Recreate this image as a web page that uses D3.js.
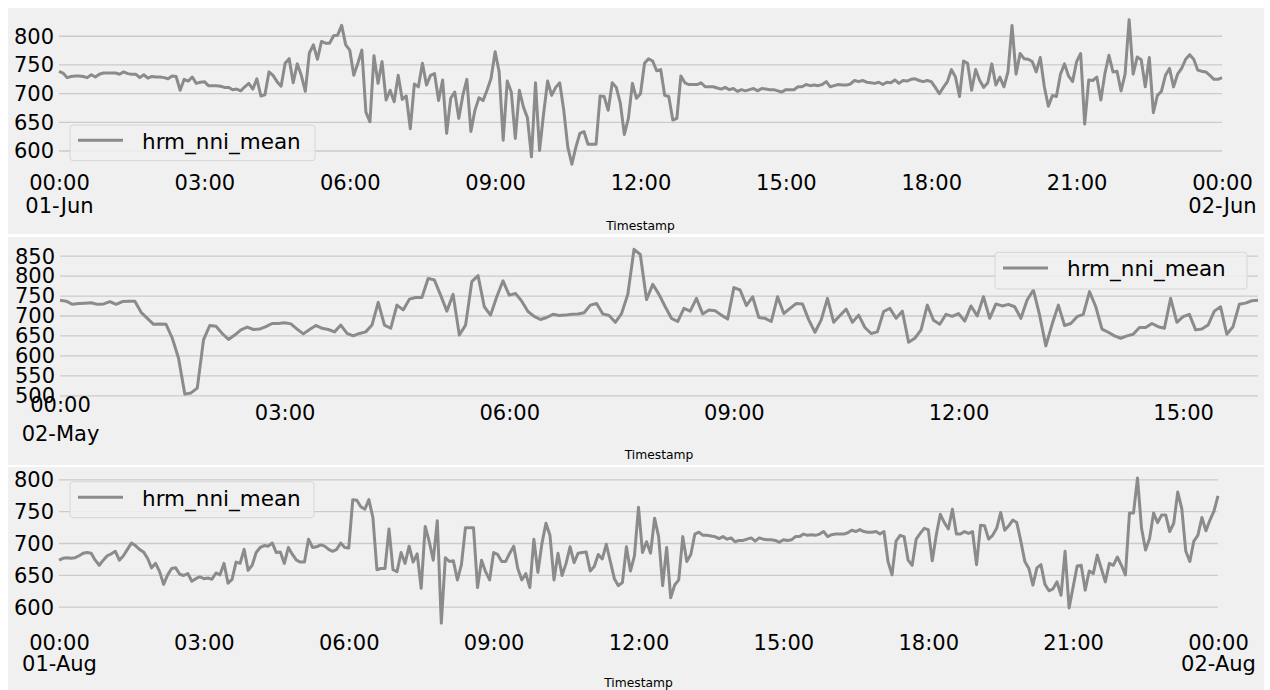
<!DOCTYPE html>
<html>
<head>
<meta charset="utf-8">
<script src="https://cdn.jsdelivr.net/npm/d3@7"></script>
<style>
  body { margin: 0; background: #ffffff; }
  text { font-family: "DejaVu Sans", sans-serif; }
</style>
</head>
<body>
<div id="chart"></div>
<script>
// series settings
const seriesName = "hrm_nni_mean";
const xLabel = "Timestamp";
const stepMinutes = 5;

// 01-Jun, one value every 5 minutes from 00:00 to 00:00 next day
const juneStart = new Date(2021, 5, 1);
const juneValues = [
  738,735,727,729,730,730,729,727,732,728,733,735,
  735,735,735,733,737,734,733,733,727,732,726,729,
  728,728,727,725,730,729,705,724,721,728,717,719,
  720,713,713,713,712,710,710,706,707,704,711,717,
  707,725,695,697,737,731,720,712,752,760,718,751,
  731,703,770,784,759,790,787,787,800,801,818,784,
  775,731,752,775,667,650,765,717,755,688,705,685,
  731,689,695,638,716,711,752,714,731,734,687,723,
  630,691,702,656,696,724,633,670,692,687,705,726,
  772,737,618,721,702,621,705,676,657,589,718,600,
  664,721,696,710,718,670,606,576,606,630,633,611,
  611,611,695,694,670,718,710,683,628,656,717,691,
  699,752,760,756,739,741,696,694,653,656,730,718,
  715,715,715,718,711,711,711,709,707,710,706,708,
  703,706,704,706,708,704,708,707,706,706,704,702,
  706,706,706,711,711,715,713,714,713,715,720,711,
  713,715,714,714,716,722,720,722,719,718,717,719,
  715,719,718,723,717,722,721,724,725,722,720,722,
  720,710,699,710,720,741,728,694,756,752,705,741,
  722,710,718,751,714,728,711,737,818,733,769,760,
  759,755,737,762,711,677,696,694,733,751,730,720,
  755,769,646,723,722,728,688,734,766,737,738,704,
  733,828,733,763,758,711,762,666,696,703,731,743,
  711,733,743,759,767,759,740,738,737,731,724,724,
  727
];
const juneTicks = [600, 650, 700, 750, 800];

// 02-May, 00:00 to 16:00
const mayStart = new Date(2021, 4, 2);
const mayValues = [
  738,736,728,730,731,732,728,729,735,728,735,736,
  736,708,693,678,679,678,643,593,503,506,518,639,
  675,673,655,640,651,664,671,665,666,672,680,680,
  682,679,666,654,665,675,668,665,659,676,655,649,
  655,659,676,733,676,668,726,714,741,745,745,793,
  789,751,711,753,651,676,785,800,722,701,747,787,
  751,755,736,710,698,690,695,703,700,701,703,704,
  707,726,730,704,700,683,705,753,866,853,740,778,
  753,722,693,685,718,711,743,704,714,712,701,691,
  770,764,725,747,695,693,685,747,705,718,730,729,
  689,658,689,743,683,700,716,683,701,670,655,659,
  710,718,693,711,633,643,664,726,688,678,703,698,
  705,686,724,699,747,693,729,724,728,722,693,739,
  764,701,624,678,726,675,680,697,703,760,722,666,
  658,649,643,649,653,670,670,680,672,668,743,683,
  697,703,664,666,676,711,722,653,672,728,731,737,
  738
];
const mayTicks = [500, 550, 600, 650, 700, 750, 800, 850];

// 01-Aug, 00:00 to 00:00 next day
const augStart = new Date(2021, 7, 1);
const augValues = [
  673,676,677,676,677,680,684,685,684,673,665,673,
  680,683,687,673,680,690,700,696,690,686,676,661,
  668,655,635,650,660,661,651,649,652,640,644,647,
  644,645,643,653,650,668,637,643,670,668,690,657,
  665,685,693,696,695,700,685,686,668,693,682,673,
  670,670,706,693,694,697,695,690,687,690,700,693,
  692,768,767,757,753,768,740,658,660,660,722,658,
  655,685,668,695,670,683,629,726,702,673,735,574,
  677,671,672,642,666,724,724,724,630,673,655,642,
  685,682,671,671,684,695,660,642,652,630,706,654,
  699,731,712,642,684,649,668,694,669,684,685,686,
  656,663,682,675,698,671,644,633,638,694,656,680,
  756,685,702,684,739,710,633,693,614,634,642,710,
  671,682,714,717,712,712,711,710,707,710,706,708,
  702,704,704,706,708,703,708,706,705,705,704,701,
  705,704,705,710,710,714,712,713,712,714,718,710,
  713,714,714,714,716,720,718,721,718,717,717,718,
  714,718,671,650,703,712,710,673,665,706,715,723,
  721,672,713,745,732,722,753,714,714,718,715,718,
  666,728,727,706,712,723,748,720,727,736,732,703,
  671,660,634,661,666,635,625,628,639,618,687,598,
  631,664,665,626,656,652,681,660,639,668,665,678,
  665,650,747,747,802,723,689,707,747,732,744,744,
  718,731,780,754,687,671,703,712,740,719,736,750,
  774
];
const augTicks = [600, 650, 700, 750, 800];

// layout of the three stacked figures
const panels = [
  { start: juneStart, values: juneValues, yTicks: juneTicks, yDomain: [565.5, 840.5],
    bg: [8, 234], left: 59, right: 1222, top: 12.5, bottom: 170.3,
    tickY: 190, dayY: [190, 212.7], titleY: 229.5,
    legend: { x: 70, y: 125, w: 245, h: 35.7 } },
  { start: mayStart, values: mayValues, yTicks: mayTicks, yDomain: [487, 880],
    bg: [237, 465], left: 60, right: 1258, top: 243.7, bottom: 400.5,
    tickY: 420, dayY: [412, 441], titleY: 459,
    legend: { x: 995, y: 252.3, w: 252, h: 36.7 } },
  { start: augStart, values: augValues, yTicks: augTicks, yDomain: [565, 813],
    bg: [467, 690], left: 59, right: 1218, top: 471, bottom: 629,
    tickY: 649.5, dayY: [649.5, 671], titleY: 687,
    legend: { x: 70, y: 481.7, w: 244, h: 36 } }
];

const W = 1270, H = 690;
const lineColor = "#8b8b8b";
const tickFont = 21;
const fmtHour = d3.timeFormat("%H:%M");
const fmtDay = d3.timeFormat("%d-%b");

const svg = d3.select("#chart")
  .append("svg")
    .attr("width", W)
    .attr("height", H);

panels.forEach(function(p) {
  const times = p.values.map((v, i) => d3.timeMinute.offset(p.start, i * stepMinutes));
  const last = times[times.length - 1];

  const x = d3.scaleTime()
    .domain([p.start, last])
    .range([p.left, p.right]);
  const y = d3.scaleLinear()
    .domain(p.yDomain)
    .range([p.bottom, p.top]);

  // figure background
  svg.append("rect")
    .attr("x", 8).attr("y", p.bg[0])
    .attr("width", 1256).attr("height", p.bg[1] - p.bg[0])
    .attr("fill", "#f0f0f0");

  // y axis with horizontal grid
  const yAxis = svg.append("g")
    .attr("transform", `translate(${p.left},0)`)
    .call(d3.axisLeft(y)
      .tickValues(p.yTicks)
      .tickSize(-(p.right - p.left))
      .tickPadding(5)
      .tickFormat(d3.format("d")));
  yAxis.select(".domain").remove();
  yAxis.selectAll("line")
    .attr("stroke", "#cbcbcb")
    .attr("stroke-width", 1.3);
  yAxis.selectAll("text")
    .attr("font-family", "DejaVu Sans")
    .attr("font-size", tickFont)
    .attr("fill", "#000")
    .attr("dy", "0.35em");

  // the series
  const line = d3.line()
    .x((d, i) => x(times[i]))
    .y(d => y(d));
  svg.append("path")
    .datum(p.values)
    .attr("d", line)
    .attr("fill", "none")
    .attr("stroke", lineColor)
    .attr("stroke-width", 3)
    .attr("stroke-linejoin", "round");

  // x axis: a label every 3 hours, day under midnight
  const hourTicks = d3.timeHour.every(3).range(p.start, d3.timeMinute.offset(last, 1));
  const xAxis = svg.append("g")
    .call(d3.axisBottom(x)
      .tickValues(hourTicks)
      .tickSize(0)
      .tickFormat(fmtHour));
  xAxis.select(".domain").remove();
  xAxis.selectAll("text")
    .attr("font-family", "DejaVu Sans")
    .attr("font-size", tickFont)
    .attr("fill", "#000")
    .attr("dy", null)
    .attr("y", d => d.getHours() === 0 ? p.dayY[0] : p.tickY)
    .filter(d => d.getHours() === 0)
    .append("tspan")
      .attr("x", 0)
      .attr("y", p.dayY[1])
      .text(d => fmtDay(d));

  // x axis title
  svg.append("text")
    .attr("x", (p.left + p.right) / 2)
    .attr("y", p.titleY)
    .attr("text-anchor", "middle")
    .attr("font-size", 12.3)
    .attr("fill", "#000")
    .text(xLabel);

  // legend
  const lg = p.legend;
  svg.append("rect")
    .attr("x", lg.x).attr("y", lg.y)
    .attr("width", lg.w).attr("height", lg.h)
    .attr("rx", 3)
    .attr("fill", "#f0f0f0")
    .attr("fill-opacity", 0.85)
    .attr("stroke", "#d6d6d6")
    .attr("stroke-width", 1);
  svg.append("line")
    .attr("x1", lg.x + 8).attr("x2", lg.x + 53)
    .attr("y1", lg.y + lg.h * 0.43).attr("y2", lg.y + lg.h * 0.43)
    .attr("stroke", lineColor)
    .attr("stroke-width", 3);
  svg.append("text")
    .attr("x", lg.x + 72)
    .attr("y", lg.y + 24)
    .attr("font-size", 21.5)
    .attr("fill", "#000")
    .text(seriesName);
});
</script>
</body>
</html>
